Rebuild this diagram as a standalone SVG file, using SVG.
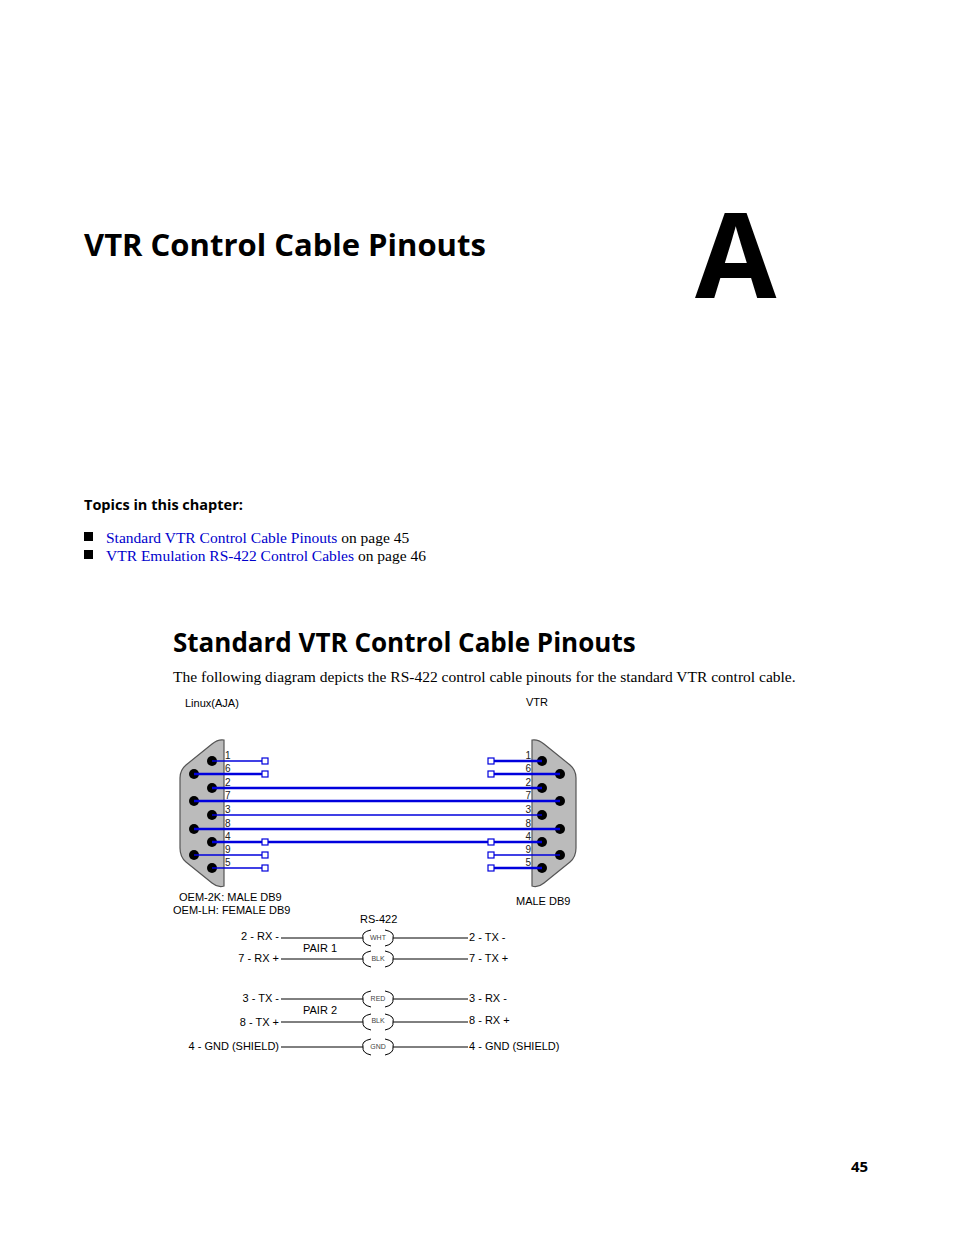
<svg xmlns="http://www.w3.org/2000/svg" width="954" height="1235" viewBox="0 0 954 1235">
<style>
.h{font-family:"Open Sans","Noto Sans",sans-serif;font-weight:bold;fill:#000}
.b{font-family:"Liberation Serif",serif;font-size:15.5px}
.lk{fill:#0000cc}
.s{font-family:"Liberation Sans",Arial,sans-serif;font-size:11px;fill:#000}
.p{font-family:"Liberation Sans",Arial,sans-serif;font-size:10px;fill:#222}
.t{font-family:"Liberation Sans",Arial,sans-serif;font-size:7px;fill:#444}
.w{stroke:#0000dd;fill:none}
.k{stroke-width:2.5}
.n{stroke-width:1.3}
.bx{fill:#fff;stroke:#0000dd;stroke-width:1.2}
.pin{fill:#000}
.shell{fill:#bbb;stroke:#555;stroke-width:1.2}
.ln{stroke:#000;stroke-width:1}
.arc{fill:none;stroke:#000;stroke-width:1}
</style>
<text class="h" x="84" y="256" font-size="31">VTR Control Cable Pinouts</text>
<text class="h" x="695" y="298" font-size="118">A</text>
<text class="h" x="84" y="510" font-size="14.5">Topics in this chapter:</text>
<rect x="84" y="532" width="9" height="9"/>
<rect x="84" y="550" width="9" height="9"/>
<text class="b" x="106" y="543"><tspan class="lk">Standard VTR Control Cable Pinouts</tspan> on page 45</text>
<text class="b" x="106" y="561"><tspan class="lk">VTR Emulation RS-422 Control Cables</tspan> on page 46</text>
<text class="h" x="173" y="652" font-size="26">Standard VTR Control Cable Pinouts</text>
<text class="b" x="173" y="682">The following diagram depicts the RS-422 control cable pinouts for the standard VTR control cable.</text>
<text class="s" x="185" y="707" font-size="12">Linux(AJA)</text>
<text class="s" x="526" y="706" font-size="12">VTR</text>
<g id="left-connector">
<path class="shell" d="M224 740 L224 886 Q218 888 212 883 L186 862 Q180 857 180 848 L180 778 Q180 770 186 765 L212 744 Q218 739 224 740 Z"/>
<circle class="pin" cx="212" cy="761" r="5"/><circle class="pin" cx="194" cy="774" r="5"/>
<circle class="pin" cx="212" cy="788" r="5"/><circle class="pin" cx="194" cy="801" r="5"/>
<circle class="pin" cx="212" cy="815" r="5"/><circle class="pin" cx="194" cy="829" r="5"/>
<circle class="pin" cx="212" cy="842" r="5"/><circle class="pin" cx="194" cy="855" r="5"/>
<circle class="pin" cx="212" cy="868" r="5"/>
<g class="p"><text x="225" y="759">1</text><text x="225" y="772">6</text><text x="225" y="786">2</text><text x="225" y="799">7</text><text x="225" y="813">3</text><text x="225" y="827">8</text><text x="225" y="840">4</text><text x="225" y="853">9</text><text x="225" y="866">5</text></g>
<text class="s" x="179" y="901">OEM-2K: MALE DB9</text>
<text class="s" x="173" y="914">OEM-LH: FEMALE DB9</text>
</g>
<g id="right-connector">
<path class="shell" d="M532 740 L532 886 Q538 888 544 883 L570 862 Q576 857 576 848 L576 778 Q576 770 570 765 L544 744 Q538 739 532 740 Z"/>
<circle class="pin" cx="542" cy="761" r="5"/><circle class="pin" cx="560" cy="774" r="5"/>
<circle class="pin" cx="542" cy="788" r="5"/><circle class="pin" cx="560" cy="801" r="5"/>
<circle class="pin" cx="542" cy="815" r="5"/><circle class="pin" cx="560" cy="829" r="5"/>
<circle class="pin" cx="542" cy="842" r="5"/><circle class="pin" cx="560" cy="855" r="5"/>
<circle class="pin" cx="542" cy="868" r="5"/>
<g class="p" text-anchor="end"><text x="531" y="759">1</text><text x="531" y="772">6</text><text x="531" y="786">2</text><text x="531" y="799">7</text><text x="531" y="813">3</text><text x="531" y="827">8</text><text x="531" y="840">4</text><text x="531" y="853">9</text><text x="531" y="866">5</text></g>
<text class="s" x="516" y="905">MALE DB9</text>
</g>
<g id="connectors">
<line class="w n" x1="212" y1="761" x2="262" y2="761"/>
<line class="w k" x1="194" y1="774" x2="262" y2="774"/>
<line class="w k" x1="212" y1="788" x2="542" y2="788"/>
<line class="w k" x1="194" y1="801" x2="560" y2="801"/>
<line class="w n" x1="212" y1="815" x2="542" y2="815"/>
<line class="w k" x1="194" y1="829" x2="560" y2="829"/>
<line class="w k" x1="212" y1="842" x2="542" y2="842"/>
<line class="w n" x1="194" y1="855" x2="262" y2="855"/>
<line class="w n" x1="212" y1="868" x2="262" y2="868"/>
<line class="w k" x1="494" y1="761" x2="542" y2="761"/>
<line class="w k" x1="494" y1="774" x2="560" y2="774"/>
<line class="w n" x1="494" y1="855" x2="560" y2="855"/>
<line class="w k" x1="494" y1="868" x2="542" y2="868"/>
<rect class="bx" x="262" y="758" width="6" height="6"/><rect class="bx" x="262" y="771" width="6" height="6"/>
<rect class="bx" x="262" y="839" width="6" height="6"/><rect class="bx" x="262" y="852" width="6" height="6"/><rect class="bx" x="262" y="865" width="6" height="6"/>
<rect class="bx" x="488" y="758" width="6" height="6"/><rect class="bx" x="488" y="771" width="6" height="6"/>
<rect class="bx" x="488" y="839" width="6" height="6"/><rect class="bx" x="488" y="852" width="6" height="6"/><rect class="bx" x="488" y="865" width="6" height="6"/>
</g>
<g id="cable">
<text class="s" x="360" y="923">RS-422</text>
<text class="s" x="303" y="952">PAIR 1</text>
<text class="s" x="303" y="1014">PAIR 2</text>
<g class="s" text-anchor="end">
<text x="279" y="940">2 - RX -</text><text x="279" y="962">7 - RX +</text>
<text x="279" y="1002">3 - TX -</text><text x="279" y="1026">8 - TX +</text>
<text x="279" y="1050">4 - GND (SHIELD)</text>
</g>
<g class="s">
<text x="469" y="941">2 - TX -</text><text x="469" y="962">7 - TX +</text>
<text x="469" y="1002">3 - RX -</text><text x="469" y="1024">8 - RX +</text>
<text x="469" y="1050">4 - GND (SHIELD)</text>
</g>
<g class="ln">
<line x1="281" y1="938" x2="363" y2="938"/><line x1="393" y1="938" x2="468" y2="938"/>
<line x1="281" y1="959" x2="363" y2="959"/><line x1="393" y1="959" x2="468" y2="959"/>
<line x1="281" y1="999" x2="363" y2="999"/><line x1="393" y1="999" x2="468" y2="999"/>
<line x1="281" y1="1022" x2="363" y2="1022"/><line x1="393" y1="1022" x2="468" y2="1022"/>
<line x1="281" y1="1047" x2="363" y2="1047"/><line x1="393" y1="1047" x2="468" y2="1047"/>
</g>
<g class="arc">
<path d="M371 930 Q361 932 363 938 Q362 944 371 946 M385 930 Q395 932 393 938 Q394 944 385 946"/>
<path d="M371 951 Q361 953 363 959 Q362 965 371 967 M385 951 Q395 953 393 959 Q394 965 385 967"/>
<path d="M371 991 Q361 993 363 999 Q362 1005 371 1007 M385 991 Q395 993 393 999 Q394 1005 385 1007"/>
<path d="M371 1014 Q361 1016 363 1022 Q362 1028 371 1030 M385 1014 Q395 1016 393 1022 Q394 1028 385 1030"/>
<path d="M371 1039 Q361 1041 363 1047 Q362 1053 371 1055 M385 1039 Q395 1041 393 1047 Q394 1053 385 1055"/>
</g>
<g class="t" text-anchor="middle">
<text x="378" y="940">WHT</text><text x="378" y="961">BLK</text><text x="378" y="1001">RED</text><text x="378" y="1023">BLK</text><text x="378" y="1049">GND</text>
</g>
</g>
<text class="h" x="851" y="1172" font-size="15">45</text>
</svg>
